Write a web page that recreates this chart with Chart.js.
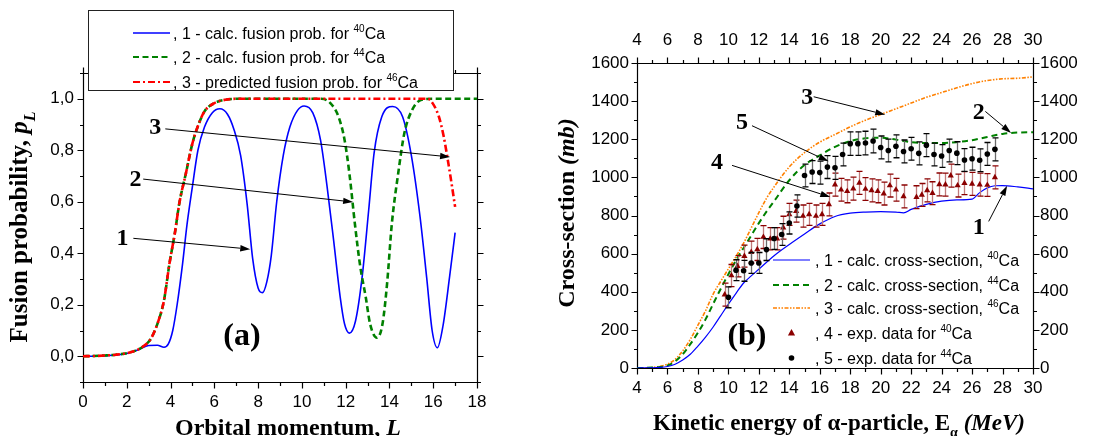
<!DOCTYPE html>
<html>
<head>
<meta charset="utf-8">
<script src="https://cdn.jsdelivr.net/npm/chart.js@4/dist/chart.umd.min.js"></script>
<style>
  html, body { margin: 0; padding: 0; background: #fff; }
  #wrap { position: relative; width: 1102px; height: 436px; overflow: hidden; }
  canvas { position: absolute; top: 0; }
  #ca { left: 0; }
  #cb { left: 551px; }
</style>
</head>
<body>
<div id="wrap">
  <canvas id="ca" width="551" height="436"></canvas>
  <canvas id="cb" width="551" height="436"></canvas>
</div>
<script>
// ---- panel (a): fusion probability vs orbital momentum ----
const aXTicks = [0, 2, 4, 6, 8, 10, 12, 14, 16, 18];
const aYTicks = [0, 0.2, 0.4, 0.6, 0.8, 1.0];
const aXMinor = [1, 3, 5, 7, 9, 11, 13, 15, 17];
const aYMinor = [-0.1, 0.1, 0.3, 0.5, 0.7, 0.9, 1.1];

const aBlueL = [0, 0.5, 1, 1.5, 2, 2.5, 3, 3.4, 3.7, 3.9, 4.1, 4.3, 4.55, 4.75, 5.0, 5.25, 5.55, 5.9, 6.25, 6.6,
  6.9, 7.2, 7.5, 7.75, 8.0, 8.2, 8.4, 8.6, 8.85, 9.15, 9.45, 9.8, 10.1, 10.5, 10.85, 11.15, 11.45, 11.75, 11.95,
  12.17, 12.45, 12.75, 13.05, 13.3, 13.65, 14.15, 14.6, 15.0, 15.4, 15.7, 15.95, 16.19, 16.45, 16.75, 17.0];
const aBlueP = [0, 0, 0.002, 0.005, 0.011, 0.024, 0.042, 0.043, 0.035, 0.048, 0.1, 0.2, 0.36, 0.51, 0.66, 0.8, 0.89, 0.945, 0.961, 0.94,
  0.88, 0.78, 0.59, 0.38, 0.265, 0.247, 0.29, 0.39, 0.6, 0.78, 0.89, 0.955, 0.972, 0.945, 0.84, 0.66, 0.45, 0.23, 0.125,
  0.09, 0.137, 0.306, 0.566, 0.79, 0.93, 0.97, 0.93, 0.78, 0.54, 0.306, 0.1, 0.033, 0.12, 0.31, 0.48];

const aGreenL = [0, 0.5, 1, 1.5, 2, 2.4, 2.7, 3.1, 3.4, 3.7, 3.95, 4.2, 4.4, 4.7, 5.0, 5.3, 5.55, 6.0, 6.5, 7.2,
  9, 10.9, 11.3, 11.67, 11.95, 12.17, 12.42, 12.65, 12.92, 13.12, 13.43, 13.68, 13.89, 14.11, 14.4, 14.68, 15.04, 15.47, 16, 18];
const aGreenP = [0, 0.001, 0.003, 0.006, 0.012, 0.022, 0.035, 0.068, 0.126, 0.217, 0.36, 0.48, 0.594, 0.71, 0.827, 0.905, 0.951, 0.983, 0.996, 1.0,
  1.0, 1.0, 0.983, 0.931, 0.84, 0.71, 0.515, 0.358, 0.228, 0.124, 0.072, 0.124, 0.28, 0.515, 0.71, 0.866, 0.957, 0.996, 1.0, 1.0];

const aRedL = [0, 0.5, 1, 1.5, 2, 2.4, 2.7, 3.1, 3.4, 3.7, 3.95, 4.2, 4.4, 4.7, 5.0, 5.3, 5.55, 6.0, 6.5, 7.2,
  10, 13, 15.75, 15.97, 16.26, 16.48, 16.69, 16.84, 17.0];
const aRedP = [0, 0.001, 0.003, 0.006, 0.012, 0.022, 0.035, 0.068, 0.126, 0.217, 0.36, 0.48, 0.594, 0.71, 0.827, 0.905, 0.951, 0.983, 0.996, 1.0,
  1.0, 1.0, 1.0, 0.983, 0.93, 0.853, 0.75, 0.67, 0.58];

// ---- panel (b): cross-section vs alpha energy ----
const bXTicks = [4, 6, 8, 10, 12, 14, 16, 18, 20, 22, 24, 26, 28, 30];
const bYTicks = [0, 200, 400, 600, 800, 1000, 1200, 1400, 1600];
const bXMinor = [5, 7, 9, 11, 13, 15, 17, 19, 21, 23, 25, 27, 29];
const bYMinor = [100, 300, 500, 700, 900, 1100, 1300, 1500];

const bBlueE = [4, 5, 5.5, 6, 6.5, 7, 7.5, 8, 8.5, 9, 9.5, 10, 10.5, 11, 11.5, 12, 13, 14, 15, 16,
  17, 18, 19, 20, 21, 21.5, 22, 23, 24, 25, 26, 26.5, 27, 27.5, 28, 29, 30];
const bBlueV = [0, 1, 3, 8, 20, 42, 72, 115, 162, 215, 275, 335, 392, 446, 483, 518, 589, 648, 703, 756,
  795, 812, 818, 820, 818, 814, 832, 858, 875, 882, 886, 920, 945, 956, 957, 950, 940];

const bGreenE = [4, 5, 5.5, 6, 6.5, 7, 7.5, 8, 8.5, 9, 9.5, 10, 10.5, 11, 11.5, 12, 12.5, 13, 14, 15,
  16, 17, 18, 19, 20, 21, 22, 23, 24, 25, 26, 27, 28, 29, 30];
const bGreenV = [0, 2, 5, 13, 35, 72, 125, 185, 255, 336, 416, 492, 565, 630, 695, 760, 820, 875, 985, 1065,
  1115, 1160, 1190, 1205, 1208, 1198, 1185, 1180, 1180, 1185, 1195, 1212, 1228, 1235, 1237];

const bOrangeE = [4, 5, 5.5, 6, 6.5, 7, 7.5, 8, 8.5, 9, 9.5, 10, 10.5, 11, 11.5, 12, 12.5, 13, 14, 15,
  16, 17, 18, 19, 20, 21, 22, 23, 24, 25, 26, 27, 28, 29, 30];
const bOrangeV = [0, 3, 9, 20, 45, 90, 150, 225, 300, 388, 455, 520, 585, 655, 735, 815, 890, 950, 1055, 1130,
  1185, 1225, 1265, 1300, 1330, 1360, 1390, 1420, 1445, 1470, 1492, 1508, 1517, 1520, 1527];

const b40E = [9.76, 10.2, 10.6, 11.05, 11.5, 11.9, 12.3, 12.75, 13.2, 13.6, 14.0, 14.45, 14.9, 15.3, 15.75, 16.15, 16.6,
  17.0, 17.4, 17.8, 18.2, 18.6, 19.0, 19.4, 19.8, 20.2, 20.6, 21.0, 21.5,
  22.35, 22.7, 23.05, 23.4, 23.85, 24.25, 24.6, 25.05, 25.5, 26.0, 26.5, 27.0, 27.5];
const b40V = [385, 485, 534, 587, 608, 622, 687, 678, 678, 736, 806, 823, 797, 806, 797, 806, 858,
  962, 935, 927, 941, 971, 939, 932, 927, 915, 957, 935, 900,
  896, 908, 932, 917, 963, 962, 1009, 957, 970, 966, 962, 960, 1000];
const b40Err = [60, 58, 56, 58, 58, 58, 60, 58, 58, 60, 58, 58, 58, 58, 58, 58, 60,
  60, 60, 60, 60, 60, 60, 60, 60, 60, 60, 60, 60,
  60, 60, 60, 60, 60, 60, 60, 60, 60, 60, 60, 60, 60];

const b44E = [10, 10.5, 11, 11.5, 12, 12.5, 13, 13.5, 14, 14.5, 15, 15.5, 16, 16.5, 17, 17.5, 18, 18.5,
  19, 19.5, 20, 20.5, 21, 21.5, 22, 22.5, 23, 23.5, 24, 24.5, 25, 25.5, 26, 26.5, 27, 27.5];
const b44V = [371, 513, 510, 551, 551, 621, 679, 700, 761, 850, 1010, 1028, 1025, 1054, 1050, 1120, 1177, 1177,
  1180, 1191, 1157, 1141, 1163, 1136, 1150, 1126, 1169, 1120, 1112, 1141, 1127, 1091, 1098, 1090, 1123, 1147];
const b44Err = [55, 55, 55, 55, 55, 57, 57, 57, 58, 58, 60, 60, 60, 60, 60, 60, 62, 62,
  62, 62, 60, 60, 60, 60, 60, 60, 60, 60, 60, 60, 60, 60, 60, 60, 60, 60];

// ---- helpers ----
const SANS = "'Liberation Sans', Arial, sans-serif";
const SERIF = "'Liberation Serif', 'Times New Roman', serif";
const tickFont = { family: SANS, size: 17 };

function pts(xs, ys) { return xs.map((x, i) => ({ x: x, y: ys[i] })); }
function setTicks(vals) { return axis => { axis.ticks = vals.map(v => ({ value: v })); }; }
const plainNum = v => String(v);

function segFont(s, size, family) {
  const sz = (s.sub || s.sup) ? Math.round(size * 0.62) : size;
  return (s.style || '') + ' ' + sz + 'px ' + family;
}
function richWidth(ctx, segs, size, family) {
  let w = 0;
  segs.forEach(s => { ctx.font = segFont(s, size, family); w += ctx.measureText(s.t).width; });
  return w;
}
// draws rich text; align 'center' or 'left'; y is the baseline
function drawRich(ctx, segs, x, y, size, family, align) {
  let cx = align === 'center' ? x - richWidth(ctx, segs, size, family) / 2 : x;
  ctx.textAlign = 'left';
  ctx.textBaseline = 'alphabetic';
  segs.forEach(s => {
    ctx.font = segFont(s, size, family);
    const dy = s.sub ? size * 0.3 : (s.sup ? -size * 0.42 : 0);
    ctx.fillText(s.t, cx, y + dy);
    cx += ctx.measureText(s.t).width;
  });
}

function arrow(ctx, x1, y1, x2, y2) {
  const ang = Math.atan2(y2 - y1, x2 - x1), len = 10, hw = 3.2;
  const bx = x2 - len * Math.cos(ang), by = y2 - len * Math.sin(ang);
  ctx.beginPath();
  ctx.moveTo(x1, y1);
  ctx.lineTo(bx, by);
  ctx.stroke();
  ctx.beginPath();
  ctx.moveTo(x2, y2);
  ctx.lineTo(bx + hw * Math.sin(ang), by - hw * Math.cos(ang));
  ctx.lineTo(bx - hw * Math.sin(ang), by + hw * Math.cos(ang));
  ctx.closePath();
  ctx.fill();
}

// box with outward ticks on all four sides
function makeFrame(xMajor, xMinor, yMajor, yMinor) {
  return {
    id: 'frame',
    beforeDatasetsDraw(chart) {
      const { ctx, chartArea: a } = chart;
      const xs = chart.scales.x, ys = chart.scales.y;
      const L = Math.round(a.left) + 0.5, R = Math.round(a.right) + 0.5;
      const T = Math.round(a.top) + 0.5, B = Math.round(a.bottom) + 0.5;
      ctx.save();
      ctx.strokeStyle = '#000';
      ctx.lineWidth = 1.2;
      ctx.beginPath();
      ctx.rect(L, T, R - L, B - T);
      const vt = (v, len) => {
        const p = Math.round(xs.getPixelForValue(v)) + 0.5;
        ctx.moveTo(p, B); ctx.lineTo(p, B + len);
        ctx.moveTo(p, T); ctx.lineTo(p, T - len);
      };
      const ht = (v, len) => {
        const p = Math.round(ys.getPixelForValue(v)) + 0.5;
        ctx.moveTo(L, p); ctx.lineTo(L - len, p);
        ctx.moveTo(R, p); ctx.lineTo(R + len, p);
      };
      xMajor.forEach(v => vt(v, 6));
      xMinor.forEach(v => vt(v, 3.5));
      yMajor.forEach(v => ht(v, 6));
      yMinor.forEach(v => ht(v, 3.5));
      ctx.stroke();
      ctx.restore();
    }
  };
}

// numbered labels with arrows, placed in data units
function makeNotes(items) {
  return {
    id: 'notes',
    afterDatasetsDraw(chart) {
      const ctx = chart.ctx, xs = chart.scales.x, ys = chart.scales.y;
      ctx.save();
      ctx.fillStyle = '#000';
      ctx.strokeStyle = '#000';
      ctx.lineWidth = 1;
      items.forEach(n => {
        ctx.font = 'bold ' + n.size + 'px ' + SERIF;
        ctx.textAlign = 'center';
        ctx.textBaseline = 'middle';
        ctx.fillText(n.text, xs.getPixelForValue(n.at[0]), ys.getPixelForValue(n.at[1]));
        if (n.from) {
          arrow(ctx, xs.getPixelForValue(n.from[0]), ys.getPixelForValue(n.from[1]),
            xs.getPixelForValue(n.to[0]), ys.getPixelForValue(n.to[1]));
        }
      });
      ctx.restore();
    }
  };
}

// axis titles with mixed bold / italic / subscript parts
function makeTitles(xTitle, yTitle) {
  return {
    id: 'titles',
    afterDraw(chart) {
      const ctx = chart.ctx;
      ctx.save();
      ctx.fillStyle = '#000';
      drawRich(ctx, xTitle.segs, xTitle.x, xTitle.y, xTitle.size, SERIF, 'center');
      ctx.translate(yTitle.x, yTitle.y);
      ctx.rotate(-Math.PI / 2);
      drawRich(ctx, yTitle.segs, 0, 0, yTitle.size, SERIF, 'center');
      ctx.restore();
    }
  };
}

function drawSample(ctx, r, x1, x2, y) {
  ctx.save();
  if (r.marker) {
    const cx = (x1 + x2) / 2;
    ctx.fillStyle = r.color;
    ctx.beginPath();
    if (r.marker === 'triangle') {
      ctx.moveTo(cx, y - 4); ctx.lineTo(cx + 3.6, y + 2.5); ctx.lineTo(cx - 3.6, y + 2.5); ctx.closePath();
    } else {
      ctx.arc(cx, y, 2.8, 0, Math.PI * 2);
    }
    ctx.fill();
  } else {
    ctx.strokeStyle = r.color;
    ctx.lineWidth = r.width;
    ctx.setLineDash(r.dash);
    ctx.beginPath();
    ctx.moveTo(x1, y); ctx.lineTo(x2, y);
    ctx.stroke();
  }
  ctx.restore();
}

function makeLegend(cfg) {
  return {
    id: 'legendBox',
    afterDraw(chart) {
      const ctx = chart.ctx;
      ctx.save();
      if (cfg.box) {
        const b = cfg.box;
        ctx.fillStyle = '#fff';
        ctx.fillRect(b[0], b[1], b[2], b[3]);
        ctx.strokeStyle = '#222';
        ctx.lineWidth = 1;
        ctx.strokeRect(b[0] + 0.5, b[1] + 0.5, b[2], b[3]);
      }
      cfg.rows.forEach((r, i) => {
        const y = cfg.rowY[i];
        drawSample(ctx, r, cfg.x1, cfg.x2, y);
        ctx.fillStyle = '#000';
        drawRich(ctx, r.segs, cfg.tx, y + cfg.size * 0.36, cfg.size, SANS, 'left');
      });
      ctx.restore();
    }
  };
}

const errBars = {
  id: 'errBars',
  beforeDatasetDraw(chart, args) {
    const ds = chart.data.datasets[args.index];
    if (!ds.errs) return;
    const ctx = chart.ctx, ys = chart.scales.y;
    ctx.save();
    ctx.lineWidth = 1.3;
    args.meta.data.forEach((pt, i) => {
      const v = ds.data[i].y, e = ds.errs[i];
      const x = Math.round(pt.x) + 0.5;
      const y1 = ys.getPixelForValue(v + e), y2 = ys.getPixelForValue(v - e);
      ctx.strokeStyle = ds.barColor;
      ctx.beginPath(); ctx.moveTo(x, y1); ctx.lineTo(x, y2); ctx.stroke();
      ctx.strokeStyle = ds.capColor;
      ctx.beginPath();
      ctx.moveTo(x - 3, y1); ctx.lineTo(x + 3, y1);
      ctx.moveTo(x - 3, y2); ctx.lineTo(x + 3, y2);
      ctx.stroke();
    });
    ctx.restore();
  }
};

const hiddenGrid = { display: false, drawTicks: false };

// ---- chart (a) ----
new Chart(document.getElementById('ca'), {
  type: 'line',
  data: {
    datasets: [
      { data: pts(aRedL, aRedP), borderColor: '#ff0000', borderWidth: 2.6, borderDash: [7, 3, 2, 3],
        pointRadius: 0, cubicInterpolationMode: 'monotone' },
      { data: pts(aGreenL, aGreenP), borderColor: '#008000', borderWidth: 2.6, borderDash: [6, 3.5],
        pointRadius: 0, cubicInterpolationMode: 'monotone' },
      { data: pts(aBlueL, aBlueP), borderColor: '#0000ff', borderWidth: 1.6,
        pointRadius: 0, cubicInterpolationMode: 'monotone' }
    ]
  },
  options: {
    responsive: false, animation: false, devicePixelRatio: 1,
    layout: { padding: { top: 73, right: 74, left: 0, bottom: 0 } },
    plugins: { legend: { display: false }, tooltip: { enabled: false } },
    scales: {
      x: {
        type: 'linear', min: 0, max: 18,
        afterBuildTicks: setTicks(aXTicks),
        afterFit: s => { s.height = 54; },
        grid: hiddenGrid, border: { display: false },
        ticks: { font: tickFont, color: '#000', padding: 10, maxRotation: 0, autoSkip: false, callback: plainNum }
      },
      y: {
        type: 'linear', min: -0.1, max: 1.1,
        afterBuildTicks: setTicks(aYTicks),
        afterFit: s => { s.width = 83; },
        grid: hiddenGrid, border: { display: false },
        ticks: { font: tickFont, color: '#000', padding: 9, autoSkip: false,
          callback: v => v.toFixed(1).replace('.', ',') }
      }
    }
  },
  plugins: [
    makeFrame(aXTicks, aXMinor, aYTicks, aYMinor),
    makeNotes([
      { text: '3', size: 24, at: [3.3, 0.887], from: [3.76, 0.883], to: [16.77, 0.774] },
      { text: '2', size: 24, at: [2.4, 0.684], from: [2.75, 0.688], to: [12.34, 0.599] },
      { text: '1', size: 24, at: [1.8, 0.458], from: [2.3, 0.458], to: [7.64, 0.416] },
      { text: '(a)', size: 32, at: [7.26, 0.074] }
    ]),
    makeTitles(
      { x: 288, y: 435, size: 24, segs: [{ t: 'Orbital momentum, ', style: 'bold' }, { t: 'L', style: 'italic bold' }] },
      { x: 27, y: 227, size: 25, segs: [{ t: 'Fusion probability, ', style: 'bold' }, { t: 'p', style: 'italic bold' },
        { t: 'L', style: 'italic bold', sub: true }] }
    ),
    makeLegend({
      box: [88, 10, 365, 80], x1: 133, x2: 170, tx: 173, size: 16, rowY: [33, 57, 82],
      rows: [
        { color: '#0000ff', width: 1.6, dash: [], segs: [{ t: ', 1 - calc. fusion prob. for ' }, { t: '40', sup: true }, { t: 'Ca' }] },
        { color: '#008000', width: 2.2, dash: [6, 3.5], segs: [{ t: ', 2 - calc. fusion prob. for ' }, { t: '44', sup: true }, { t: 'Ca' }] },
        { color: '#ff0000', width: 2.2, dash: [7, 3, 2, 3], segs: [{ t: ', 3 - predicted fusion prob. for ' }, { t: '46', sup: true }, { t: 'Ca' }] }
      ]
    })
  ]
});

// ---- chart (b) ----
new Chart(document.getElementById('cb'), {
  type: 'line',
  data: {
    datasets: [
      { data: pts(b44E, b44V), showLine: false, pointStyle: 'circle', pointRadius: 2.8,
        pointBackgroundColor: '#000', pointBorderWidth: 0,
        errs: b44Err, barColor: '#6a6a6a', capColor: '#000' },
      { data: pts(b40E, b40V), showLine: false, pointStyle: 'triangle', pointRadius: 3.6,
        pointBackgroundColor: '#8b0000', pointBorderWidth: 0,
        errs: b40Err, barColor: '#c07a7a', capColor: '#8b0000' },
      { data: pts(bBlueE, bBlueV), borderColor: '#0000ff', borderWidth: 1.2,
        pointRadius: 0, cubicInterpolationMode: 'monotone' },
      { data: pts(bGreenE, bGreenV), borderColor: '#008000', borderWidth: 2, borderDash: [6, 4],
        pointRadius: 0, cubicInterpolationMode: 'monotone' },
      { data: pts(bOrangeE, bOrangeV), borderColor: '#ff8000', borderWidth: 1.6, borderDash: [4, 1.5, 1.5, 1.5, 1.5, 1.5],
        pointRadius: 0, cubicInterpolationMode: 'monotone' }
    ]
  },
  options: {
    responsive: false, animation: false, devicePixelRatio: 1,
    layout: { padding: 0 },
    plugins: { legend: { display: false }, tooltip: { enabled: false } },
    scales: {
      x: {
        type: 'linear', min: 4, max: 30,
        afterBuildTicks: setTicks(bXTicks),
        afterFit: s => { s.height = 68; },
        grid: hiddenGrid, border: { display: false },
        ticks: { font: tickFont, color: '#000', padding: 10, maxRotation: 0, autoSkip: false, callback: plainNum }
      },
      x2: {
        axis: 'x', type: 'linear', position: 'top', min: 4, max: 30,
        afterBuildTicks: setTicks(bXTicks),
        afterFit: s => { s.height = 63; },
        grid: hiddenGrid, border: { display: false },
        ticks: { font: tickFont, color: '#000', padding: 12, maxRotation: 0, autoSkip: false, callback: plainNum }
      },
      y: {
        type: 'linear', min: 0, max: 1600,
        afterBuildTicks: setTicks(bYTicks),
        afterFit: s => { s.width = 86; },
        grid: hiddenGrid, border: { display: false },
        ticks: { font: tickFont, color: '#000', padding: 8, autoSkip: false, callback: plainNum }
      },
      y2: {
        axis: 'y', type: 'linear', position: 'right', min: 0, max: 1600,
        afterBuildTicks: setTicks(bYTicks),
        afterFit: s => { s.width = 69; },
        grid: hiddenGrid, border: { display: false },
        ticks: { font: tickFont, color: '#000', padding: 7, autoSkip: false, callback: plainNum }
      }
    }
  },
  plugins: [
    errBars,
    makeFrame(bXTicks, bXMinor, bYTicks, bYMinor),
    makeNotes([
      { text: '3', size: 24, at: [15.17, 1418], from: [15.6, 1423], to: [20.3, 1329] },
      { text: '5', size: 24, at: [10.9, 1285], from: [11.55, 1271], to: [16.58, 1084] },
      { text: '4', size: 24, at: [9.25, 1075], from: [10.24, 1063], to: [16.69, 897] },
      { text: '2', size: 24, at: [26.43, 1338], from: [26.87, 1346], to: [28.56, 1233] },
      { text: '1', size: 24, at: [26.43, 734], from: [27.09, 769], to: [28.3, 956] },
      { text: '(b)', size: 32, at: [11.22, 166] }
    ]),
    makeTitles(
      { x: 288, y: 430, size: 23, segs: [{ t: 'Kinetic energy of α-particle, E', style: 'bold' },
        { t: 'α', style: 'bold', sub: true }, { t: ' (MeV)', style: 'italic bold' }] },
      { x: 23, y: 213, size: 24, segs: [{ t: 'Cross-section ', style: 'bold' }, { t: '(mb)', style: 'italic bold' }] }
    ),
    makeLegend({
      x1: 222, x2: 259, tx: 264, size: 16, rowY: [260, 285, 308, 333, 358],
      rows: [
        { color: '#0000ff', width: 1.2, dash: [], segs: [{ t: ', 1 - calc. cross-section, ' }, { t: '40', sup: true }, { t: 'Ca' }] },
        { color: '#008000', width: 2, dash: [6, 4], segs: [{ t: ', 2 - calc. cross-section, ' }, { t: '44', sup: true }, { t: 'Ca' }] },
        { color: '#ff8000', width: 1.6, dash: [4, 1.5, 1.5, 1.5, 1.5, 1.5], segs: [{ t: ', 3 - calc. cross-section, ' }, { t: '46', sup: true }, { t: 'Ca' }] },
        { color: '#8b0000', marker: 'triangle', segs: [{ t: ', 4 - exp. data for ' }, { t: '40', sup: true }, { t: 'Ca' }] },
        { color: '#000', marker: 'circle', segs: [{ t: ', 5 - exp. data for ' }, { t: '44', sup: true }, { t: 'Ca' }] }
      ]
    })
  ]
});
</script>
</body>
</html>
